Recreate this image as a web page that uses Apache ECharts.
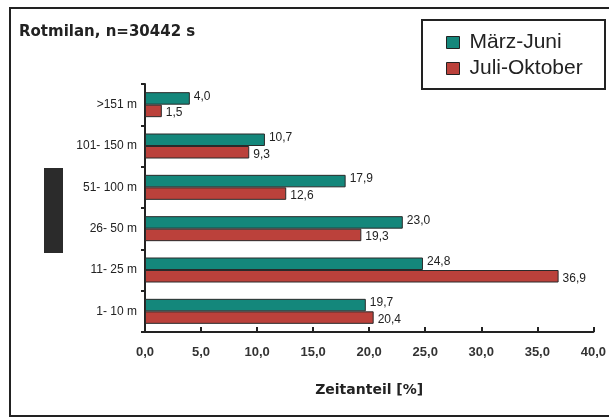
<!DOCTYPE html>
<html><head><meta charset="utf-8">
<script src="https://cdn.jsdelivr.net/npm/echarts@6/dist/echarts.min.js"></script>
<style>html,body{margin:0;padding:0;background:#fff}#c{width:609px;height:418px}</style>
</head><body><div id="c"></div>
<script>
const categories = ['1- 10 m', '11- 25 m', '26- 50 m', '51- 100 m', '101- 150 m', '>151 m'];
const marzJuni = [19.7, 24.8, 23.0, 17.9, 10.7, 4.0];
const juliOktober = [20.4, 36.9, 19.3, 12.6, 9.3, 1.5];
const xTicks = [0, 5, 10, 15, 20, 25, 30, 35, 40];
const seriesNames = ['März-Juni', 'Juli-Oktober'];

const FONT = '"Liberation Sans", Arial, sans-serif';
const WIDE = '"DejaVu Sans", "Liberation Sans", sans-serif';
const TEAL = '#14877b';
const RED = '#bb413b';
const fmt = v => v.toFixed(1).replace('.', ',');

const chart = echarts.init(document.getElementById('c'));
chart.setOption({
  animation: false,
  backgroundColor: '#fff',
  textStyle: { fontFamily: FONT },
  grid: { left: 145, right: 9, top: 84, bottom: 86, containLabel: false },
  legend: {
    data: seriesNames,
    orient: 'vertical',
    left: 446, top: 32, padding: 0,
    itemWidth: 13, itemHeight: 12, itemGap: 5,
    icon: 'rect',
    textStyle: { fontFamily: FONT, fontSize: 21, color: '#222', padding: [0, 0, 0, 5] },
    itemStyle: { borderColor: '#222', borderWidth: 1 }
  },
  xAxis: {
    type: 'value', min: 0, max: 40, interval: 5,
    axisLine: { show: true, lineStyle: { color: '#222', width: 2 } },
    axisTick: { show: true, length: 5, inside: true, lineStyle: { color: '#222', width: 2 } },
    splitLine: { show: false },
    axisLabel: { formatter: v => xTicks.includes(v) ? fmt(v) : '', fontFamily: FONT, fontSize: 13, fontWeight: 'bold', color: '#333', margin: 14 },
    name: 'Zeitanteil [%]', nameLocation: 'middle', nameGap: 51,
    nameTextStyle: { fontFamily: WIDE, fontSize: 14, fontWeight: 'bold', color: '#222' }
  },
  yAxis: {
    type: 'category', data: categories,
    axisLine: { show: true, lineStyle: { color: '#222', width: 2 } },
    axisTick: { show: true, length: 4, lineStyle: { color: '#222', width: 2 } },
    axisLabel: { fontFamily: FONT, fontSize: 12, color: '#222', margin: 8 }
  },
  series: [
    {
      name: seriesNames[0], type: 'bar', data: marzJuni,
      barWidth: 12.5, barGap: '0%',
      itemStyle: { color: TEAL, borderColor: '#2a2a2a', borderWidth: 1 },
      label: { show: true, position: 'right', distance: 4, offset: [0, -2], formatter: p => fmt(p.value), fontFamily: FONT, fontSize: 12, color: '#222' }
    },
    {
      name: seriesNames[1], type: 'bar', data: juliOktober,
      barWidth: 12.5, barGap: '0%',
      itemStyle: { color: RED, borderColor: '#2a2a2a', borderWidth: 1 },
      label: { show: true, position: 'right', distance: 4, offset: [0, 2], formatter: p => fmt(p.value), fontFamily: FONT, fontSize: 12, color: '#222' }
    }
  ],
  graphic: [
    { type: 'rect', shape: { x: 10, y: 8, width: 610, height: 408 }, style: { fill: 'none', stroke: '#222', lineWidth: 2 }, silent: true, z: -1 },
    { type: 'rect', shape: { x: 422, y: 20, width: 183, height: 69 }, style: { fill: 'none', stroke: '#222', lineWidth: 2 }, silent: true },
    { type: 'text', left: 19, top: 25, style: { text: 'Rotmilan, n=30442 s', fontFamily: WIDE, fontSize: 15, fontWeight: 'bold', fill: '#222' } },
    { type: 'rect', shape: { x: 44, y: 168, width: 19, height: 85 }, style: { fill: '#2b2b2b' }, silent: true }
  ]
});
</script>
</body></html>
